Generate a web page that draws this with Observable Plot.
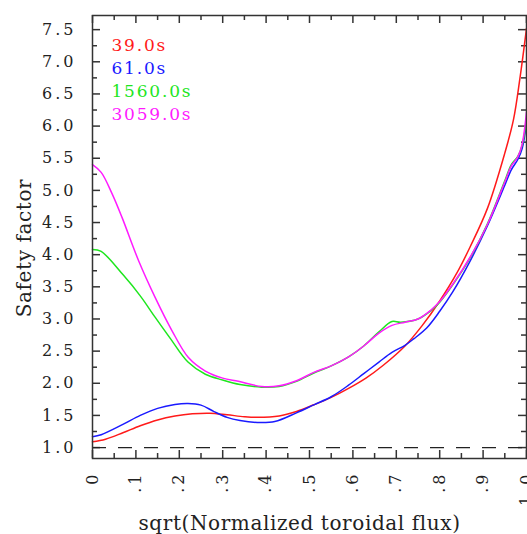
<!DOCTYPE html>
<html>
<head>
<meta charset="utf-8">
<script src="https://cdn.jsdelivr.net/npm/d3@7"></script>
<script src="https://cdn.jsdelivr.net/npm/@observablehq/plot@0.6"></script>
<style>
  body { margin: 0; background: #fff; }
  g[aria-label="y-axis tick label"] text, g[aria-label="x-axis tick label"] text { letter-spacing: 3px; }
  .legend text { letter-spacing: 1.8px; }
  .title text { letter-spacing: 0.6px; }
</style>
</head>
<body>
<div id="chart"></div>
<script>
// ---- data ----
const seriesNames = ["39.0s", "61.0s", "1560.0s", "3059.0s"];
const seriesColors = ["#ff1a1a", "#1a1aff", "#1ee61e", "#ff1aff"];

const xRed = [0, 0.03, 0.07, 0.11, 0.15, 0.19, 0.23, 0.27, 0.31, 0.35, 0.38, 0.43, 0.47, 0.51, 0.55, 0.59, 0.63, 0.67, 0.72, 0.76, 0.80, 0.84, 0.87, 0.91, 0.95, 0.97, 0.985, 1.0];
const qRed = [1.09, 1.13, 1.23, 1.34, 1.43, 1.49, 1.525, 1.535, 1.51, 1.48, 1.47, 1.49, 1.56, 1.665, 1.78, 1.92, 2.08, 2.28, 2.58, 2.90, 3.28, 3.72, 4.12, 4.72, 5.58, 6.10, 6.75, 7.52];

const xBlue = [0, 0.02, 0.07, 0.11, 0.15, 0.19, 0.22, 0.25, 0.28, 0.31, 0.34, 0.38, 0.42, 0.47, 0.51, 0.55, 0.59, 0.625, 0.66, 0.69, 0.72, 0.74, 0.77, 0.80, 0.83, 0.87, 0.91, 0.95, 0.965, 0.98, 0.99, 1.0];
const qBlue = [1.17, 1.20, 1.36, 1.50, 1.61, 1.67, 1.685, 1.66, 1.56, 1.47, 1.42, 1.39, 1.405, 1.54, 1.665, 1.79, 1.97, 2.15, 2.33, 2.48, 2.59, 2.69, 2.86, 3.12, 3.42, 3.90, 4.45, 5.08, 5.32, 5.48, 5.65, 6.05];

const xGreen = [0, 0.02, 0.07, 0.11, 0.145, 0.18, 0.22, 0.26, 0.30, 0.34, 0.39, 0.43, 0.47, 0.51, 0.55, 0.59, 0.625, 0.66, 0.69, 0.71, 0.75, 0.78, 0.80, 0.83, 0.87, 0.91, 0.95, 0.965, 0.98, 0.99, 1.0];
const qGreen = [4.08, 4.05, 3.69, 3.36, 3.02, 2.69, 2.33, 2.14, 2.05, 1.98, 1.94, 1.95, 2.03, 2.16, 2.27, 2.41, 2.58, 2.80, 2.96, 2.95, 3.00, 3.13, 3.26, 3.53, 3.95, 4.48, 5.15, 5.40, 5.53, 5.70, 6.10];

const xMagenta = [0, 0.02, 0.045, 0.068, 0.106, 0.144, 0.183, 0.221, 0.26, 0.30, 0.336, 0.39, 0.43, 0.47, 0.51, 0.55, 0.59, 0.625, 0.66, 0.69, 0.72, 0.75, 0.78, 0.80, 0.83, 0.87, 0.91, 0.95, 0.965, 0.98, 0.99, 1.0];
const qMagenta = [5.40, 5.28, 4.95, 4.58, 3.91, 3.34, 2.82, 2.40, 2.19, 2.08, 2.03, 1.95, 1.96, 2.04, 2.17, 2.27, 2.41, 2.58, 2.78, 2.90, 2.95, 3.00, 3.14, 3.27, 3.54, 3.96, 4.47, 5.13, 5.38, 5.52, 5.72, 6.22];

const xTicks = [0, 0.1, 0.2, 0.3, 0.4, 0.5, 0.6, 0.7, 0.8, 0.9, 1.0];
const xTickLabels = ["0", ".1", ".2", ".3", ".4", ".5", ".6", ".7", ".8", ".9", "1.0"];
const xMinorTicks = [0.05, 0.15, 0.25, 0.35, 0.45, 0.55, 0.65, 0.75, 0.85, 0.95];
const yTicks = [1.0, 1.5, 2.0, 2.5, 3.0, 3.5, 4.0, 4.5, 5.0, 5.5, 6.0, 6.5, 7.0, 7.5];
const yTickLabels = ["1.0", "1.5", "2.0", "2.5", "3.0", "3.5", "4.0", "4.5", "5.0", "5.5", "6.0", "6.5", "7.0", "7.5"];
const yMinorTicks = [1.25, 1.75, 2.25, 2.75, 3.25, 3.75, 4.25, 4.75, 5.25, 5.75, 6.25, 6.75, 7.25];
const referenceLevel = [1.0];

const xTitle = "sqrt(Normalized toroidal flux)";
const yTitle = "Safety factor";

// ---- build ----
const W = 527, H = 534, mL = 92, mR = 1, mT = 15, mB = 76;
const frameW = W - mL - mR, frameH = H - mT - mB;
const xDomain = [0, 1], yDomain = [0.83, 7.72];
// tick lengths converted to data units (ticks point inward)
const yPer = (yDomain[1] - yDomain[0]) / frameH;
const xPer = (xDomain[1] - xDomain[0]) / frameW;
const majLen = 8, minLen = 5;

const xs = [xRed, xBlue, xGreen, xMagenta];
const qs = [qRed, qBlue, qGreen, qMagenta];
const rows = [];
seriesNames.forEach((name, i) => {
  xs[i].forEach((x, j) => rows.push({series: name, x, q: qs[i][j]}));
});

const font = "'DejaVu Serif', serif";
const axisColor = "#333";

const lineMarks = seriesNames.map((name, i) =>
  Plot.line(rows.filter(d => d.series === name), {x: "x", y: "q", stroke: seriesColors[i], strokeWidth: 1.5, curve: "catmull-rom"})
);

const legendMarks = seriesNames.map((name, i) =>
  Plot.text([name], {text: d => d, frameAnchor: "top-left", textAnchor: "start", lineAnchor: "bottom", dx: 19, dy: 35 + i * 23, fill: seriesColors[i], fontSize: 17, className: "legend"})
);

const fmtX = d => xTickLabels[xTicks.findIndex(t => Math.abs(t - d) < 1e-9)];
const fmtY = d => yTickLabels[yTicks.findIndex(t => Math.abs(t - d) < 1e-9)];

const tk = {stroke: axisColor, strokeWidth: 1.5};
const xTickRules = (ticks, len) => [
  Plot.ruleX(ticks, {x: d => d, y1: yDomain[0], y2: yDomain[0] + len * yPer, ...tk}),
  Plot.ruleX(ticks, {x: d => d, y1: yDomain[1] - len * yPer, y2: yDomain[1], ...tk})
];
const yTickRules = (ticks, len) => [
  Plot.ruleY(ticks, {y: d => d, x1: xDomain[0], x2: xDomain[0] + len * xPer, ...tk}),
  Plot.ruleY(ticks, {y: d => d, x1: xDomain[1] - len * xPer, x2: xDomain[1], ...tk})
];

const chart = Plot.plot({
  width: W,
  height: H,
  marginLeft: mL,
  marginRight: mR,
  marginTop: mT,
  marginBottom: mB,
  style: {fontFamily: font, background: "#fff", color: "#222"},
  x: {domain: xDomain, label: null},
  y: {domain: yDomain, label: null},
  marks: [
    ...xTickRules(xTicks, majLen),
    ...xTickRules(xMinorTicks, minLen),
    ...yTickRules(yTicks, majLen),
    ...yTickRules(yMinorTicks, minLen),
    // tick labels
    Plot.axisX(xTicks, {anchor: "bottom", tickSize: 0, tickPadding: 13, tickRotate: -90, tickFormat: fmtX, fontSize: 16, fill: "#222", label: null}),
    Plot.axisY(yTicks, {anchor: "left", tickSize: 0, tickPadding: 16, tickFormat: fmtY, fontSize: 16, fill: "#222", label: null}),
    // titles
    Plot.text([yTitle], {text: d => d, frameAnchor: "left", textAnchor: "middle", rotate: -90, dx: -68, dy: 11, fontSize: 20, fill: "#222", className: "title"}),
    Plot.text([xTitle], {text: d => d, frameAnchor: "bottom", textAnchor: "middle", lineAnchor: "bottom", dx: -10, dy: 71, fontSize: 20, fill: "#222", className: "title"}),
    // reference dashed line
    Plot.ruleY(referenceLevel, {stroke: "#222", strokeWidth: 1.2, strokeDasharray: "14,12"}),
    ...lineMarks,
    ...legendMarks,
    Plot.frame({stroke: axisColor, strokeWidth: 1.5})
  ]
});
document.getElementById("chart").appendChild(chart);
</script>
</body>
</html>
